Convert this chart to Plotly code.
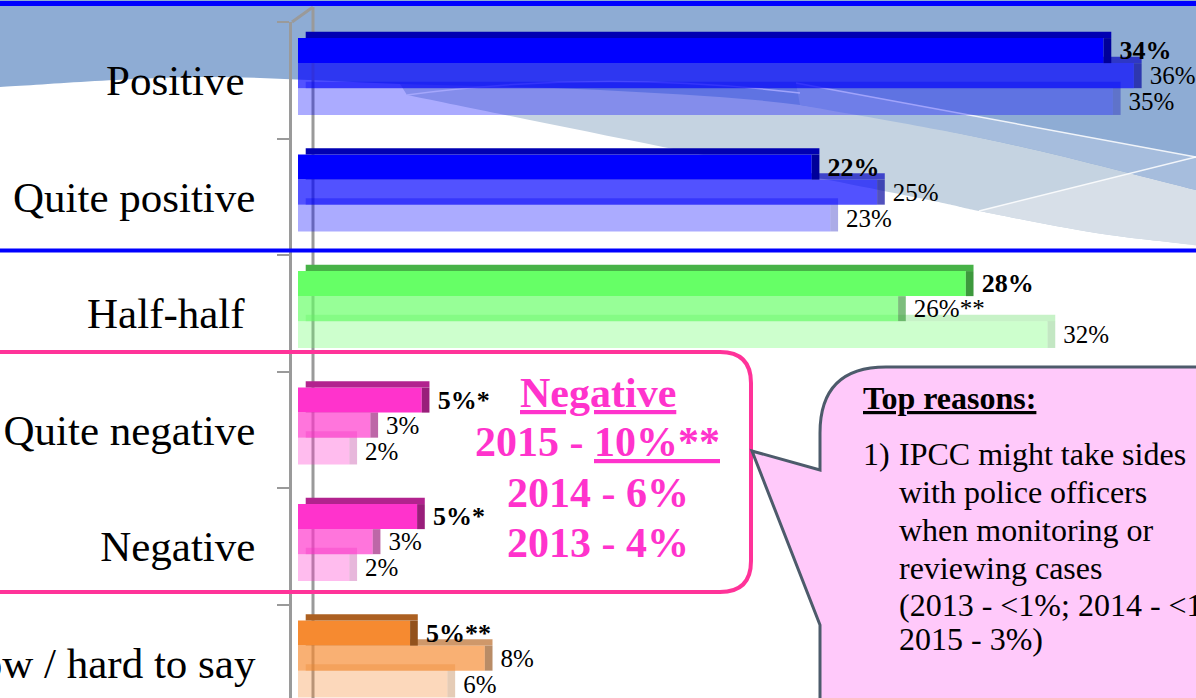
import plotly.graph_objects as go

# ---------------- data ----------------
categories = ["Positive\u00a0", "Quite positive", "Half-half\u00a0",
              "Quite negative", "Negative", "Don't know / hard to say"]
values_2015 = [34.5, 22.0, 28.6, 5.3, 5.1, 4.8]
values_2014 = [35.8, 24.8, 25.7, 3.1, 3.2, 8.0]
values_2013 = [34.9, 22.8, 32.1, 2.2, 2.2, 6.4]
labels_2015 = ["34%", "22%", "28%", "5%*", "5%*", "5%**"]
labels_2014 = ["36%", "25%", "26%**", "3%", "3%", "8%"]
labels_2013 = ["35%", "23%", "32%", "2%", "2%", "6%"]

negative_title = "Negative"
negative_lines = ["2015 - <u>10%**</u>", "2014 - 6%", "2013 - 4%"]
reasons_title = "Top reasons:"
reason_number = "1)"
reason_lines = ["IPCC might take sides", "with police officers", "when monitoring or",
                "reviewing cases", "(2013 - &lt;1%; 2014 - &lt;1%;", "2015 - 3%)"]

# ---------------- styles ----------------
SERIF = "Liberation Serif"
W, H = 1196, 698
ML, MR, MT, MB = 292, 0, 22, 0
PW, PH = W - ML - MR, H - MT - MB
PX_PER_PCT = 23.35
ZERO_PX = 298

BLUE, GREEN, PINKC, ORANGE = (0, 0, 255), (102, 255, 102), (255, 51, 204), (246, 138, 48)
families = [BLUE, BLUE, GREEN, PINKC, PINKC, ORANGE]

GEOM = {"2015": (-0.362, 0.215), "2014": (-0.147, 0.215), "2013": (0.068, 0.23)}
STYLE = {"2015": (1.0, 0.70, 0.60), "2014": (0.68, 0.75, 0.62), "2013": (0.33, 0.85, 0.72)}
TOP_D = 0.055   # depth of top face (category units)
SIDE_D = 0.33   # depth of side face (percent units)


def rgba(c, a, k=1.0):
    return f"rgba({int(c[0]*k)},{int(c[1]*k)},{int(c[2]*k)},{a})"


def px(x):
    return (x - ML) / PW


def py(y):
    return 1 - (y - MT) / PH


def P(p):
    return f"{px(p[0]):.5f},{py(p[1]):.5f}"


def smooth(pts):
    s = ""
    for i in range(len(pts) - 1):
        p0 = pts[i - 1] if i > 0 else pts[i]
        p1, p2 = pts[i], pts[i + 1]
        p3 = pts[i + 2] if i + 2 < len(pts) else p2
        c1 = (p1[0] + (p2[0] - p0[0]) / 6, p1[1] + (p2[1] - p0[1]) / 6)
        c2 = (p2[0] - (p3[0] - p1[0]) / 6, p2[1] - (p3[1] - p1[1]) / 6)
        s += f" C {P(c1)} {P(c2)} {P(p2)}"
    return s


fig = go.Figure()

series = [("2013", values_2013, labels_2013),
          ("2014", values_2014, labels_2014),
          ("2015", values_2015, labels_2015)]

for name, vals, labs in series:
    off, wd = GEOM[name]
    a, ktop, kside = STYLE[name]
    n = len(vals)
    # front face
    fig.add_bar(y=categories, x=vals, orientation="h", offset=off, width=wd,
                marker=dict(color=[rgba(f, a) for f in families], line=dict(width=0)),
                hoverinfo="skip", showlegend=False, name=name)
    # top face
    fig.add_bar(y=categories, x=vals, base=[SIDE_D] * n, orientation="h",
                offset=off - TOP_D, width=TOP_D,
                marker=dict(color=[rgba(f, a, ktop) for f in families], line=dict(width=0)),
                hoverinfo="skip", showlegend=False)
    # side face + value label
    fig.add_bar(y=categories, x=[SIDE_D] * n, base=vals, orientation="h",
                offset=off, width=wd,
                marker=dict(color=[rgba(f, a, kside) for f in families], line=dict(width=0)),
                text=["\u2009" + t for t in labs], textposition="outside",
                constraintext="none",
                textfont=dict(family=SERIF, size=26 if name == "2015" else 25, color="black",
                              weight="bold" if name == "2015" else "normal"),
                hoverinfo="skip", showlegend=False)

# ---------------- background decoration ----------------
shapes = []
# light grey swoosh
pathA = (f"M {P((400, 84))} L {P((407, 95))}"
         + smooth([(407, 95), (663, 147), (919, 198), (979, 211), (1096, 233), (1196, 245)])
         + f" L {P((1200, 245))} L {P((1200, 0))} L {P((400, 0))} Z")
shapes.append(dict(type="path", path=pathA, xref="paper", yref="paper",
                   fillcolor="#c5d3e1", line=dict(width=0), layer="below"))
pathD = (f"M {P((979, 211))} L {P((1200, 156))} L {P((1200, 246))}"
         + smooth([(1196, 245), (1096, 233), (979, 211)]) + " Z")
shapes.append(dict(type="path", path=pathD, xref="paper", yref="paper",
                   fillcolor="#d7dfe8", line=dict(width=0), layer="below"))
# blue swoosh
pathB = (f"M {P((-5, 0))} L {P((1200, 0))} L {P((1200, 191))}"
         + smooth([(1196, 190), (1000, 142), (800, 105), (600, 90), (400, 84),
                   (200, 77), (0, 87), (-5, 87.5)]) + " Z")
shapes.append(dict(type="path", path=pathB, xref="paper", yref="paper",
                   fillcolor="#8eacd4", line=dict(width=0), layer="below"))
# lighter blue band
shapes.append(dict(type="path", path=f"M {P((796, 83))} L {P((1200, 158))} L {P((1200, 191))}"
                   + smooth([(1196, 190), (1000, 142), (800, 105)]) + f" L {P((796, 83))} Z",
                   xref="paper", yref="paper",
                   fillcolor="#a6bddd", line=dict(width=0), layer="below"))
# thin white highlight lines
for pth in [f"M {P((407, 95))} Q {P((600, 69))} {P((800, 93))}",
            f"M {P((796, 83))} L {P((1196, 157))}",
            f"M {P((979, 211))} L {P((1196, 157))}"]:
    shapes.append(dict(type="path", path=pth, xref="paper", yref="paper",
                       line=dict(color="rgba(255,255,255,0.85)", width=1.5), layer="below"))

# back wall line of the 3D axis
shapes.append(dict(type="line", xref="paper", yref="paper", x0=px(313), x1=px(313),
                   y0=py(7), y1=py(700), line=dict(color="#9a9a9a", width=3), layer="below"))
shapes.append(dict(type="line", xref="paper", yref="paper", x0=px(292), x1=px(313),
                   y0=py(22), y1=py(7), line=dict(color="#9a9a9a", width=3), layer="above"))

# blue separator lines
shapes.append(dict(type="line", xref="paper", yref="paper", x0=px(-5), x1=px(1200),
                   y0=py(3.5), y1=py(3.5), line=dict(color="#0000ff", width=5), layer="above"))
shapes.append(dict(type="line", xref="paper", yref="paper", x0=px(-5), x1=px(1200),
                   y0=py(250.5), y1=py(250.5), line=dict(color="#0000ff", width=4), layer="above"))

# pink rounded box
pathPink = (f"M {P((-20, 352))} L {P((720, 352))} Q {P((751, 352))} {P((751, 383))}"
            f" L {P((751, 561))} Q {P((751, 592))} {P((720, 592))} L {P((-20, 592))}")
shapes.append(dict(type="path", path=pathPink, xref="paper", yref="paper",
                   line=dict(color="#ff3399", width=4), layer="above"))

# callout bubble
pathCall = (f"M {P((1230, 367))} L {P((886, 367))} Q {P((820, 367))} {P((820, 433))}"
            f" L {P((820, 470))} L {P((752, 451))} L {P((820, 625))} L {P((820, 720))}"
            f" L {P((1230, 720))} Z")
shapes.append(dict(type="path", path=pathCall, xref="paper", yref="paper",
                   fillcolor="#ffc9fa", line=dict(color="#4d5b6b", width=3), layer="above"))

# ---------------- annotations ----------------
PINK_TXT = "#ff33cc"
ann = []
ann.append(dict(x=px(597.5), y=py(392.5), text=f"<u>{negative_title}</u>"))
for t, yy in zip(negative_lines, [441.7, 493.3, 542.7]):
    ann.append(dict(x=px(597.5), y=py(yy), text=t))
annotations = []
for a_ in ann:
    annotations.append(dict(xref="paper", yref="paper", showarrow=False,
                            xanchor="center", yanchor="middle",
                            font=dict(family=SERIF, size=42, color=PINK_TXT, weight="bold"),
                            **a_))
annotations.append(dict(xref="paper", yref="paper", showarrow=False, xanchor="left",
                        yanchor="middle", x=px(861), y=py(398),
                        text=f"<u>{reasons_title}</u>",
                        font=dict(family=SERIF, size=32, color="black", weight="bold")))
annotations.append(dict(xref="paper", yref="paper", showarrow=False, xanchor="left",
                        yanchor="middle", x=px(861), y=py(453.5), text=reason_number,
                        font=dict(family=SERIF, size=32, color="black")))
for t, yy in zip(reason_lines, [453.5, 491.5, 530, 568, 605, 639]):
    annotations.append(dict(xref="paper", yref="paper", showarrow=False, xanchor="left",
                            yanchor="middle", x=px(897), y=py(yy), text=t,
                            font=dict(family=SERIF, size=32, color="black")))

x_lo = (ML - ZERO_PX) / PX_PER_PCT
x_hi = (W - MR - ZERO_PX) / PX_PER_PCT
cat_px = 116.5
y_bottom = -0.5 + PH / cat_px

fig.update_layout(
    template="none",
    width=W, height=H,
    margin=dict(l=ML, r=MR, t=MT, b=MB, pad=0),
    paper_bgcolor="white", plot_bgcolor="rgba(0,0,0,0)",
    barmode="overlay", showlegend=False,
    shapes=shapes, annotations=annotations,
    xaxis=dict(visible=False, range=[x_lo, x_hi], fixedrange=True),
    yaxis=dict(type="category", categoryorder="array", categoryarray=categories,
               range=[y_bottom, -0.5], showline=True, linecolor="#9a9a9a", linewidth=3,
               ticks="outside", tickson="boundaries", ticklen=12, tickwidth=2,
               tickcolor="#9a9a9a", showgrid=False, zeroline=False, automargin=False,
               ticklabelstandoff=25,
               tickfont=dict(family=SERIF, size=43, color="black"), fixedrange=True),
)

fig.write_html("out.html", config={"displayModeBar": False},
               post_script="document.body.style.margin='0px';document.body.style.overflow='hidden';")
